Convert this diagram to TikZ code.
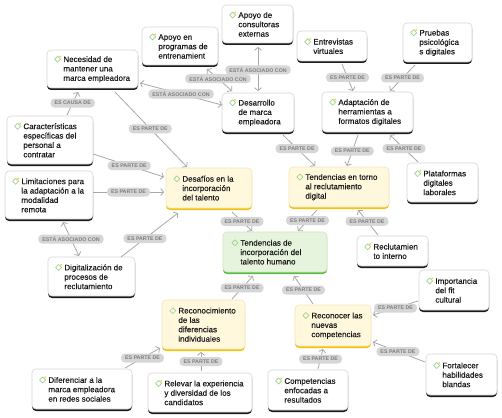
\documentclass[tikz,border=0pt]{standalone}
\usepackage{fontspec}
\setmainfont{Liberation Sans}
\newfontfamily\nodefont{Liberation Sans}[FakeBold=0.35]
\usetikzlibrary{arrows.meta,shadows}
\definecolor{linec}{HTML}{A8A8A8}
\definecolor{pill}{HTML}{D6D6D6}
\definecolor{pilltxt}{HTML}{7E7E7E}
\definecolor{wborder}{HTML}{D6D6D6}
\definecolor{yfill}{HTML}{FFF8DD}
\definecolor{yborder}{HTML}{F2E6BD}
\definecolor{ybar}{HTML}{F4C20D}
\definecolor{gfill}{HTML}{E7F4DD}
\definecolor{gborder}{HTML}{CBE6BB}
\definecolor{gbar}{HTML}{5AB947}
\definecolor{icong}{HTML}{9ED38B}
\definecolor{icony}{HTML}{F5CF2F}
\definecolor{txtc}{HTML}{1A1A1A}
\newcommand{\icw}{\llap{\tikz[baseline=0pt]{\draw[icong,line width=0.7pt,line join=round] (0pt,-0.2pt) -- (3pt,2.8pt) -- (0pt,5.8pt) -- (-3pt,2.8pt) -- cycle; \fill[icony] (2.6pt,5.5pt) circle (1pt);}\hspace{2.2pt}}}
\newcommand{\icc}{\llap{\tikz[baseline=0pt]{\draw[icong,line width=0.7pt,line join=round] (0pt,-0.2pt) -- (3pt,2.8pt) -- (0pt,5.8pt) -- (-3pt,2.8pt) -- cycle;}\hspace{2.2pt}}}
\begin{document}
\begin{tikzpicture}[x=1pt,y=-1pt,
  wbox/.style={rectangle,rounded corners=4pt,draw=wborder,fill=white,line width=0.6pt,inner sep=0pt,
    general shadow={fill=black!90,shadow xshift=0pt,shadow yshift=-2pt}},
  ybox/.style={rectangle,rounded corners=4pt,draw=yborder,fill=yfill,line width=0.6pt,inner sep=0pt,
    general shadow={fill=ybar,shadow xshift=0pt,shadow yshift=-2pt}},
  gbox/.style={rectangle,rounded corners=4pt,draw=gborder,fill=gfill,line width=0.6pt,inner sep=0pt,
    general shadow={fill=gbar,shadow xshift=0pt,shadow yshift=-2pt}},
  txtn/.style={anchor=west,align=left,inner sep=0pt,text=txtc,font=\nodefont\fontsize{8}{9.4}\selectfont},
  lbl/.style={fill=pill,text=pilltxt,font=\fontsize{5.3}{6}\selectfont\bfseries,rounded corners=4pt,
    inner xsep=4pt,inner ysep=1.6pt,minimum height=9pt},
  conn/.style={draw=linec,line width=0.8pt},
  arr/.style={-{Straight Barb[length=2.8pt,width=7pt]}},
  barr/.style={{Straight Barb[length=2.8pt,width=7pt]}-{Straight Barb[length=2.8pt,width=7pt]}}
]
\fill[white] (0,0) rectangle (502,417);
\path[use as bounding box] (0,0) rectangle (502,417);

% boxes
\node[wbox,minimum width=71pt,minimum height=38pt] (A) at (257.5,24) {};
\node[wbox,minimum width=76pt,minimum height=38pt] (B) at (180,46) {};
\node[wbox,minimum width=91pt,minimum height=38pt] (C) at (92.5,69) {};
\node[wbox,minimum width=72pt,minimum height=39pt] (D) at (258,112.5) {};
\node[wbox,minimum width=70pt,minimum height=30pt] (E) at (332,46) {};
\node[wbox,minimum width=69pt,minimum height=39pt] (F) at (437.5,42.5) {};
\node[wbox,minimum width=91pt,minimum height=40pt] (G) at (367.5,112) {};
\node[wbox,minimum width=86pt,minimum height=48pt] (H) at (50,140) {};
\node[wbox,minimum width=88pt,minimum height=48pt] (I) at (49,195) {};
\node[wbox,minimum width=87pt,minimum height=39pt] (J) at (91.5,276.5) {};
\node[ybox,minimum width=86pt,minimum height=40pt] (K) at (209,188) {};
\node[ybox,minimum width=100pt,minimum height=40pt] (L) at (339,187) {};
\node[wbox,minimum width=71pt,minimum height=39pt] (M) at (442.5,182.5) {};
\node[gbox,minimum width=104pt,minimum height=40pt] (N) at (275,252) {};
\node[wbox,minimum width=71pt,minimum height=30pt] (O) at (392.5,251) {};
\node[wbox,minimum width=70pt,minimum height=40pt] (P) at (454,290) {};
\node[ybox,minimum width=83pt,minimum height=49pt] (Q) at (203.5,324.5) {};
\node[ybox,minimum width=76pt,minimum height=41pt] (R) at (333,325.5) {};
\node[wbox,minimum width=71pt,minimum height=41pt] (S) at (461.5,374.5) {};
\node[wbox,minimum width=80pt,minimum height=40pt] (T) at (308,390) {};
\node[wbox,minimum width=100pt,minimum height=40pt] (U) at (82,389) {};
\node[wbox,minimum width=104pt,minimum height=39pt] (V) at (200,392.5) {};

% texts
\node[txtn] (At) at ([xshift=16.5pt]A.west) {\icw Apoyo de\\consultoras\\externas};
\node[txtn] (Bt) at ([xshift=16.5pt]B.west) {\icw Apoyo en\\programas de\\entrenamient};
\node[txtn] (Ct) at ([xshift=16.5pt]C.west) {\icw Necesidad de\\mantener una\\marca empleadora};
\node[txtn] (Dt) at ([xshift=16.5pt]D.west) {\icw Desarrollo\\de marca\\empleadora};
\node[txtn] (Et) at ([xshift=16.5pt]E.west) {\icw Entrevistas\\virtuales};
\node[txtn] (Ft) at ([xshift=16.5pt]F.west) {\icw Pruebas\\psicológica\\s digitales};
\node[txtn] (Gt) at ([xshift=16.5pt]G.west) {\icw Adaptación de\\herramientas a\\formatos digitales};
\node[txtn] (Ht) at ([xshift=16.5pt]H.west) {\icw Características\\específicas del\\personal a\\contratar};
\node[txtn] (It) at ([xshift=16.5pt]I.west) {\icw Limitaciones para\\la adaptación a la\\modalidad\\remota};
\node[txtn] (Jt) at ([xshift=16.5pt]J.west) {\icw Digitalización de\\procesos de\\reclutamiento};
\node[txtn] (Kt) at ([xshift=16.5pt]K.west) {\icc Desafíos en la\\incorporación\\del talento};
\node[txtn] (Lt) at ([xshift=16.5pt]L.west) {\icc Tendencias en torno\\al reclutamiento\\digital};
\node[txtn] (Mt) at ([xshift=16.5pt]M.west) {\icw Plataformas\\digitales\\laborales};
\node[txtn] (Nt) at ([xshift=17.5pt]N.west) {\icc Tendencias de\\incorporación del\\talento humano};
\node[txtn] (Ot) at ([xshift=16.5pt]O.west) {\icw Reclutamien\\to interno};
\node[txtn] (Pt) at ([xshift=16.5pt]P.west) {\icw Importancia\\del fit\\cultural};
\node[txtn] (Qt) at ([xshift=16.5pt]Q.west) {\icc Reconocimiento\\de las\\diferencias\\individuales};
\node[txtn] (Rt) at ([xshift=16.5pt]R.west) {\icc Reconocer las\\nuevas\\competencias};
\node[txtn] (St) at ([xshift=16.5pt]S.west) {\icw Fortalecer\\habilidades\\blandas};
\node[txtn] (Tt) at ([xshift=16.5pt]T.west) {\icw Competencias\\enfocadas a\\resultados};
\node[txtn] (Ut) at ([xshift=16.5pt]U.west) {\icw Diferenciar a la\\marca empleadora\\en redes sociales};
\node[txtn] (Vt) at ([xshift=16.5pt]V.west) {\icw Relevar la experiencia\\y diversidad de los\\candidatos};

% connectors
\draw[conn,barr] ([shift={(47.5,14)}]C.center) -- node[lbl,pos=0.5] (l1) {ESTÁ ASOCIADO CON} ([shift={(-36,-7.5)}]D.center);
\draw[conn,barr] ([shift={(27,23)}]B.center) -- node[lbl,pos=0.44] (l2) {ESTÁ ASOCIADO CON} ([shift={(-26,-21.5)}]D.center);
\draw[conn,barr] ([shift={(0.5,23)}]A.center) -- node[lbl,pos=0.52] (l3) {ESTÁ ASOCIADO CON} ([shift={(0,-21.5)}]D.center);
\draw[conn,arr] ([shift={(22.5,23)}]C.center) -- node[lbl,pos=0.49] (l4) {ES PARTE DE} ([shift={(-22,-21)}]K.center);
\draw[conn,arr] ([shift={(17,-25)}]H.center) -- node[lbl,pos=0.52] (l5) {ES CAUSA DE} ([shift={(-14.5,23)}]C.center);
\draw[conn,arr] ([shift={(43,14)}]H.center) -- node[lbl,pos=0.51] (l6) {ES PARTE DE} ([shift={(-45,-11)}]K.center);
\draw[conn,arr] ([shift={(44,-3)}]I.center) -- node[lbl,pos=0.5] (l7) {ES PARTE DE} ([shift={(-45,4)}]K.center);
\draw[conn,barr] ([shift={(14,27)}]I.center) -- node[lbl,pos=0.5] (l8) {ESTÁ ASOCIADO CON} ([shift={(-12.5,-20.5)}]J.center);
\draw[conn,arr] ([shift={(29.5,-19.5)}]J.center) -- node[lbl,pos=0.42] (l9) {ES PARTE DE} ([shift={(-31,25)}]K.center);
\draw[conn,arr] ([shift={(23,24)}]K.center) -- node[lbl,pos=0.5] (l10) {ES PARTE DE} ([shift={(-23,-21)}]N.center);
\draw[conn,arr] ([shift={(25,22.5)}]D.center) -- node[lbl,pos=0.44] (l11) {ES PARTE DE} ([shift={(-24,-21)}]L.center);
\draw[conn,arr] ([shift={(-9.5,23)}]G.center) -- node[lbl,pos=0.52] (l12) {ES PARTE DE} ([shift={(8,-21)}]L.center);
\draw[conn,arr] ([shift={(-24.5,-20.5)}]M.center) -- node[lbl,pos=0.5] (l13) {ES PARTE DE} ([shift={(22.5,23)}]G.center);
\draw[conn,arr] ([shift={(10,18)}]E.center) -- node[lbl,pos=0.5] (l14) {ES PARTE DE} ([shift={(-14.5,-21)}]G.center);
\draw[conn,arr] ([shift={(-22.5,22.5)}]F.center) -- node[lbl,pos=0.5] (l15) {ES PARTE DE} ([shift={(22.5,-21)}]G.center);
\draw[conn,arr] ([shift={(-22,23)}]L.center) -- node[lbl,pos=0.5] (l16) {ES PARTE DE} ([shift={(23,-21)}]N.center);
\draw[conn,arr] ([shift={(-14.5,-16)}]O.center) -- node[lbl,pos=0.55] (l17) {ES PARTE DE} ([shift={(19,23)}]L.center);
\draw[conn,arr] ([shift={(28.5,-25.5)}]Q.center) -- node[lbl,pos=0.48] (l18) {ES PARTE DE} ([shift={(-22,24)}]N.center);
\draw[conn,arr] ([shift={(-20,-21.5)}]R.center) -- node[lbl,pos=0.5] (l19) {ES PARTE DE} ([shift={(19,24)}]N.center);
\draw[conn,arr] ([shift={(-36,11)}]P.center) -- node[lbl,pos=0.5] (l20) {ES PARTE DE} ([shift={(40,-10.5)}]R.center);
\draw[conn,arr] ([shift={(-36.5,-12.5)}]S.center) -- node[lbl,pos=0.52] (l21) {ES PARTE DE} ([shift={(40,16.5)}]R.center);
\draw[conn,arr] ([shift={(10,-21)}]T.center) -- node[lbl,pos=0.5] (l22) {ES PARTE DE} ([shift={(-10,23.5)}]R.center);
\draw[conn,arr] ([shift={(43,-21)}]U.center) -- node[lbl,pos=0.5] (l23) {ES PARTE DE} ([shift={(-43.5,23.5)}]Q.center);
\draw[conn,arr] ([shift={(1,-21.5)}]V.center) -- node[lbl,pos=0.5] (l24) {ES PARTE DE} ([shift={(-2.5,27.5)}]Q.center);
\end{tikzpicture}
\end{document}
